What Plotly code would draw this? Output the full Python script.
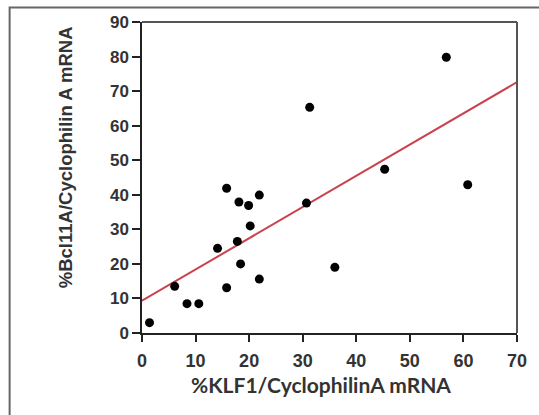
import numpy as np
import plotly.graph_objects as go

# %KLF1 / Cyclophilin A mRNA (x) vs %Bcl11A / Cyclophilin A mRNA (y)
klf1 = [1.4, 6.1, 8.4, 10.6, 14.1, 15.8, 15.8, 17.8, 18.1, 18.4,
        19.9, 20.2, 21.9, 21.9, 30.7, 31.3, 36.0, 45.3, 56.8, 60.8]
bcl11a = [3.0, 13.5, 8.5, 8.5, 24.5, 41.9, 13.1, 26.5, 37.9, 20.0,
          36.9, 31.0, 39.9, 15.6, 37.6, 65.3, 19.0, 47.4, 79.8, 42.9]
x_ticks = [0, 10, 20, 30, 40, 50, 60, 70]
y_ticks = [0, 10, 20, 30, 40, 50, 60, 70, 80, 90]

# least-squares regression line across the x range
slope, intercept = np.polyfit(klf1, bcl11a, 1)
line_x = np.array([0, 70])
line_y = intercept + slope * line_x

W, H = 539, 415
L, R, T, B = 142, 16, 22, 82
pw, ph = W - L - R, H - T - B

def px(v):
    return (v - L) / pw

def py(v):
    return (H - B - v) / ph

fig = go.Figure()
fig.add_trace(go.Scatter(x=line_x, y=line_y, mode="lines",
                         line=dict(color="#c9434f", width=2),
                         showlegend=False, hoverinfo="skip"))
fig.add_trace(go.Scatter(x=klf1, y=bcl11a, mode="markers",
                         marker=dict(color="black", size=9),
                         showlegend=False))

fig.update_xaxes(range=[0, 70], tickvals=x_ticks, showgrid=False, zeroline=False,
                 showline=True, linecolor="#222222", linewidth=1.5,
                 ticks="outside", ticklen=7, tickwidth=1.5, tickcolor="#222222",
                 ticklabelstandoff=4,
                 tickfont=dict(family="Arial", size=18, color="#333333", weight="bold"))
fig.update_yaxes(range=[0, 90], tickvals=y_ticks, showgrid=False, zeroline=False,
                 showline=True, linecolor="#222222", linewidth=1.5,
                 ticks="outside", ticklen=8, tickwidth=1.5, tickcolor="#222222",
                 tickfont=dict(family="Arial", size=17, color="#333333", weight="bold"))

# gray top/right edges of the plot box and the outer frame
fig.add_shape(type="line", xref="paper", yref="paper", x0=0, x1=1, y0=1, y1=1,
              line=dict(color="#555555", width=2))
fig.add_shape(type="line", xref="paper", yref="paper", x0=1, x1=1, y0=0, y1=1,
              line=dict(color="#555555", width=2))
fig.add_shape(type="rect", xref="paper", yref="paper",
              x0=px(7.5), x1=px(560), y0=py(430), y1=py(7.5),
              line=dict(color="#666666", width=2))

fig.add_annotation(text="%KLF1/CyclophilinA mRNA", xref="paper", yref="paper",
                   x=px(324), y=py(384), xanchor="center", yanchor="middle",
                   showarrow=False,
                   font=dict(family="Lato", size=21, color="#333333", weight="bold"))
fig.add_annotation(text="%Bcl11A/Cyclophilin A mRNA", xref="paper", yref="paper",
                   x=px(64), y=py(157), xanchor="center", yanchor="middle",
                   showarrow=False, textangle=-90,
                   font=dict(family="Arial", size=18.5, color="#333333", weight="bold"))

fig.update_layout(width=W, height=H, margin=dict(l=L, r=R, t=T, b=B),
                  plot_bgcolor="white", paper_bgcolor="white")
fig.write_html("out.html")
